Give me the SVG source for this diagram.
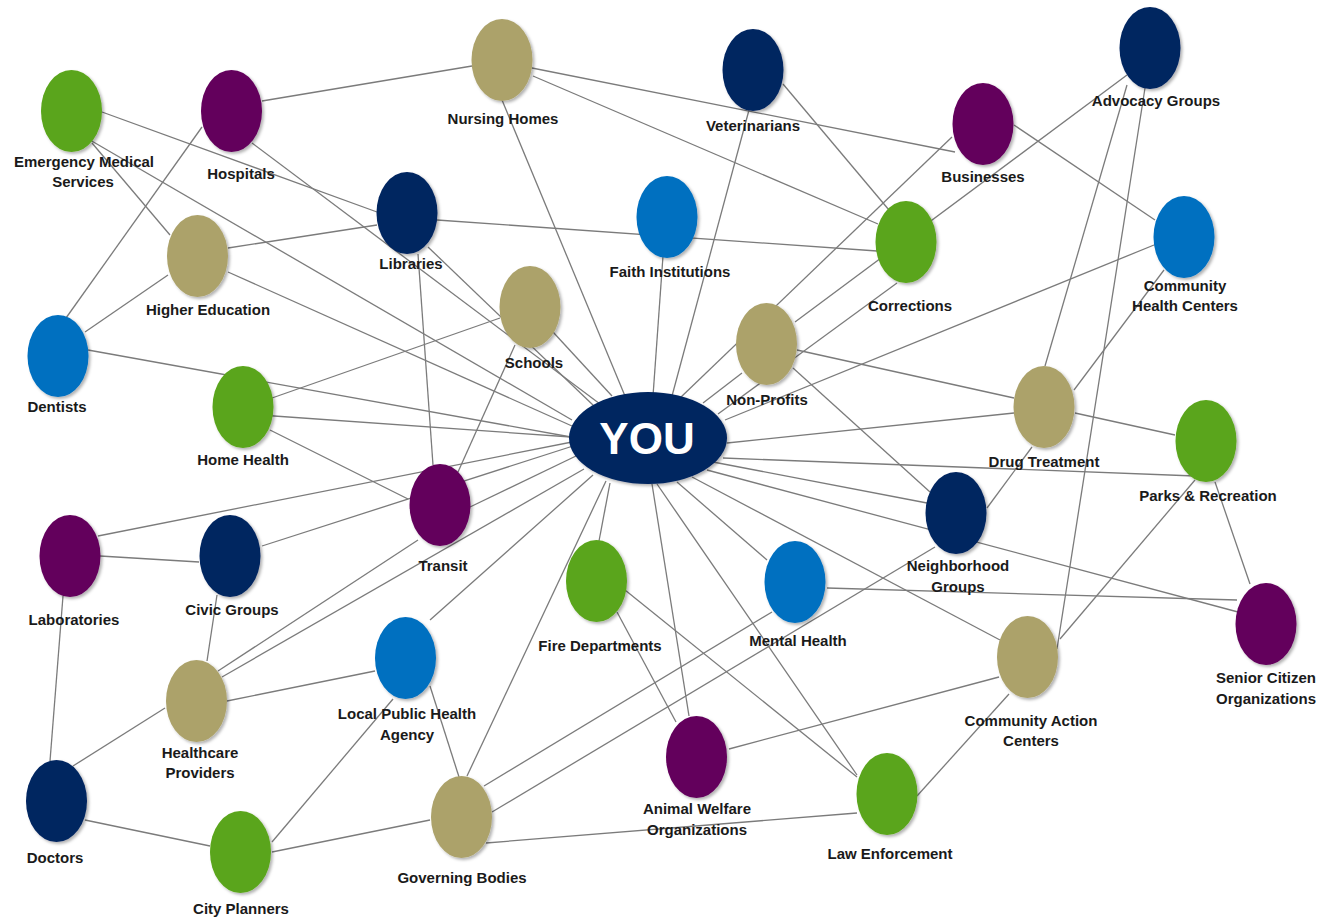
<svg xmlns="http://www.w3.org/2000/svg" width="1331" height="922" viewBox="0 0 1331 922">
<style>
.c line{stroke:#7b7b7b;stroke-width:1.3;fill:none}
.g{fill:#5aa51a}.p{fill:#63005c}.t{fill:#aca26b}.n{fill:#012560}.b{fill:#0070c0}
ellipse{filter:url(#sh)}
text{font-family:"Liberation Sans",Arial,sans-serif;font-weight:bold;font-size:15px;fill:#1a1a1a;text-anchor:middle}
.you{font-size:44px;fill:#ffffff}
</style>
<defs>
<filter id="sh" x="-30%" y="-30%" width="160%" height="160%">
<feDropShadow dx="2" dy="2" stdDeviation="1.5" flood-color="#000" flood-opacity="0.3"/>
</filter>
</defs>
<rect width="1331" height="922" fill="#ffffff"/>
<g id="connectors" class="c">
<line x1="262" y1="101" x2="472" y2="66"/>
<line x1="532" y1="68" x2="955" y2="152"/>
<line x1="533" y1="76" x2="878" y2="224"/>
<line x1="502" y1="100" x2="625" y2="396"/>
<line x1="749" y1="110" x2="672" y2="396"/>
<line x1="783" y1="84" x2="889" y2="210"/>
<line x1="663" y1="256" x2="653" y2="396"/>
<line x1="437" y1="220" x2="877" y2="251"/>
<line x1="102" y1="112" x2="377" y2="212"/>
<line x1="90" y1="140" x2="572" y2="420"/>
<line x1="92" y1="143" x2="170" y2="235"/>
<line x1="202" y1="127" x2="66" y2="318"/>
<line x1="252" y1="143" x2="600" y2="404"/>
<line x1="228" y1="248" x2="377" y2="225"/>
<line x1="168" y1="275" x2="85" y2="332"/>
<line x1="228" y1="272" x2="572" y2="426"/>
<line x1="418" y1="254" x2="433" y2="465"/>
<line x1="428" y1="247" x2="594" y2="406"/>
<line x1="553" y1="332" x2="612" y2="396"/>
<line x1="500" y1="318" x2="272" y2="398"/>
<line x1="515" y1="345" x2="458" y2="472"/>
<line x1="260" y1="415" x2="571" y2="437"/>
<line x1="88" y1="350" x2="571" y2="437"/>
<line x1="98" y1="536" x2="572" y2="442"/>
<line x1="262" y1="546" x2="573" y2="446"/>
<line x1="470" y1="507" x2="576" y2="456"/>
<line x1="218" y1="671" x2="418" y2="540"/>
<line x1="222" y1="677" x2="584" y2="469"/>
<line x1="430" y1="620" x2="593" y2="475"/>
<line x1="467" y1="776" x2="606" y2="481"/>
<line x1="599" y1="541" x2="610" y2="483"/>
<line x1="689" y1="716" x2="652" y2="484"/>
<line x1="657" y1="484" x2="857" y2="775"/>
<line x1="677" y1="482" x2="767" y2="560"/>
<line x1="692" y1="477" x2="1000" y2="640"/>
<line x1="707" y1="470" x2="1238" y2="612"/>
<line x1="713" y1="462" x2="927" y2="503"/>
<line x1="723" y1="458" x2="1195" y2="476"/>
<line x1="727" y1="443" x2="1014" y2="413"/>
<line x1="725" y1="420" x2="1154" y2="245"/>
<line x1="897" y1="283" x2="718" y2="414"/>
<line x1="952" y1="137" x2="680" y2="398"/>
<line x1="742" y1="373" x2="703" y2="403"/>
<line x1="1127" y1="75" x2="795" y2="322"/>
<line x1="797" y1="350" x2="1014" y2="398"/>
<line x1="793" y1="368" x2="930" y2="492"/>
<line x1="1014" y1="125" x2="1155" y2="220"/>
<line x1="1127" y1="85" x2="1045" y2="366"/>
<line x1="1145" y1="88" x2="1057" y2="649"/>
<line x1="1074" y1="390" x2="1164" y2="270"/>
<line x1="1075" y1="413" x2="1175" y2="435"/>
<line x1="987" y1="508" x2="1032" y2="447"/>
<line x1="1215" y1="482" x2="1250" y2="584"/>
<line x1="1195" y1="480" x2="1060" y2="639"/>
<line x1="827" y1="588" x2="1237" y2="600"/>
<line x1="772" y1="612" x2="484" y2="786"/>
<line x1="935" y1="547" x2="492" y2="812"/>
<line x1="999" y1="677" x2="729" y2="749"/>
<line x1="1009" y1="694" x2="917" y2="796"/>
<line x1="617" y1="612" x2="676" y2="722"/>
<line x1="625" y1="590" x2="857" y2="777"/>
<line x1="486" y1="843" x2="857" y2="813"/>
<line x1="430" y1="686" x2="459" y2="777"/>
<line x1="272" y1="852" x2="430" y2="820"/>
<line x1="272" y1="842" x2="393" y2="699"/>
<line x1="85" y1="820" x2="210" y2="846"/>
<line x1="73" y1="766" x2="165" y2="708"/>
<line x1="63" y1="596" x2="50" y2="761"/>
<line x1="100" y1="556" x2="199" y2="562"/>
<line x1="217" y1="595" x2="207" y2="661"/>
<line x1="227" y1="701" x2="375" y2="671"/>
<line x1="270" y1="430" x2="408" y2="499"/>
</g>
<g id="node-ems"><ellipse class="g" cx="71.5" cy="111" rx="30.5" ry="41"/><text x="84" y="167">Emergency Medical</text><text x="83" y="187">Services</text></g>
<g id="node-hospitals"><ellipse class="p" cx="231.5" cy="111" rx="30.5" ry="41"/><text x="241" y="179">Hospitals</text></g>
<g id="node-higher-education"><ellipse class="t" cx="197.5" cy="256" rx="30.5" ry="41"/><text x="208" y="315">Higher Education</text></g>
<g id="node-libraries"><ellipse class="n" cx="407" cy="213" rx="30.5" ry="41"/><text x="411" y="269">Libraries</text></g>
<g id="node-nursing-homes"><ellipse class="t" cx="502" cy="60" rx="30.5" ry="41"/><text x="503" y="124">Nursing Homes</text></g>
<g id="node-veterinarians"><ellipse class="n" cx="753" cy="70" rx="30.5" ry="41"/><text x="753" y="131">Veterinarians</text></g>
<g id="node-faith"><ellipse class="b" cx="667" cy="217" rx="30.5" ry="41"/><text x="670" y="277">Faith Institutions</text></g>
<g id="node-advocacy"><ellipse class="n" cx="1150" cy="48" rx="30.5" ry="41"/><text x="1156" y="106">Advocacy Groups</text></g>
<g id="node-businesses"><ellipse class="p" cx="983" cy="124" rx="30.5" ry="41"/><text x="983" y="182">Businesses</text></g>
<g id="node-chc"><ellipse class="b" cx="1184" cy="237" rx="30.5" ry="41"/><text x="1185" y="291">Community</text><text x="1185" y="311">Health Centers</text></g>
<g id="node-corrections"><ellipse class="g" cx="906" cy="242" rx="30.5" ry="41"/><text x="910" y="311">Corrections</text></g>
<g id="node-dentists"><ellipse class="b" cx="58" cy="356" rx="30.5" ry="41"/><text x="57" y="412">Dentists</text></g>
<g id="node-home-health"><ellipse class="g" cx="243" cy="407" rx="30.5" ry="41"/><text x="243" y="465">Home Health</text></g>
<g id="node-schools"><ellipse class="t" cx="530" cy="307" rx="30.5" ry="41"/><text x="534" y="368">Schools</text></g>
<g id="node-non-profits"><ellipse class="t" cx="766.5" cy="344" rx="30.5" ry="41"/><text x="767" y="405">Non-Profits</text></g>
<g id="node-drug-treatment"><ellipse class="t" cx="1044" cy="407" rx="30.5" ry="41"/><text x="1044" y="467">Drug Treatment</text></g>
<g id="node-parks"><ellipse class="g" cx="1206" cy="441" rx="30.5" ry="41"/><text x="1208" y="501">Parks &amp; Recreation</text></g>
<g id="node-neighborhood"><ellipse class="n" cx="956" cy="513" rx="30.5" ry="41"/><text x="958" y="571">Neighborhood</text><text x="958" y="592">Groups</text></g>
<g id="node-transit"><ellipse class="p" cx="440" cy="505" rx="30.5" ry="41"/><text x="443" y="571">Transit</text></g>
<g id="node-laboratories"><ellipse class="p" cx="70" cy="556" rx="30.5" ry="41"/><text x="74" y="625">Laboratories</text></g>
<g id="node-civic"><ellipse class="n" cx="230" cy="556" rx="30.5" ry="41"/><text x="232" y="615">Civic Groups</text></g>
<g id="node-fire"><ellipse class="g" cx="596.5" cy="581" rx="30.5" ry="41"/><text x="600" y="651">Fire Departments</text></g>
<g id="node-mental-health"><ellipse class="b" cx="795" cy="582" rx="30.5" ry="41"/><text x="798" y="646">Mental Health</text></g>
<g id="node-senior"><ellipse class="p" cx="1266" cy="624" rx="30.5" ry="41"/><text x="1266" y="683">Senior Citizen</text><text x="1266" y="704">Organizations</text></g>
<g id="node-lpha"><ellipse class="b" cx="405.5" cy="658" rx="30.5" ry="41"/><text x="407" y="719">Local Public Health</text><text x="407" y="740">Agency</text></g>
<g id="node-healthcare"><ellipse class="t" cx="196.5" cy="701" rx="30.5" ry="41"/><text x="200" y="758">Healthcare</text><text x="200" y="778">Providers</text></g>
<g id="node-doctors"><ellipse class="n" cx="56.5" cy="801" rx="30.5" ry="41"/><text x="55" y="863">Doctors</text></g>
<g id="node-city-planners"><ellipse class="g" cx="240.5" cy="852" rx="30.5" ry="41"/><text x="241" y="914">City Planners</text></g>
<g id="node-governing"><ellipse class="t" cx="461.5" cy="817" rx="30.5" ry="41"/><text x="462" y="883">Governing Bodies</text></g>
<g id="node-animal-welfare"><ellipse class="p" cx="696.5" cy="757" rx="30.5" ry="41"/><text x="697" y="814">Animal Welfare</text><text x="697" y="835">Organizations</text></g>
<g id="node-law"><ellipse class="g" cx="887" cy="794" rx="30.5" ry="41"/><text x="890" y="859">Law Enforcement</text></g>
<g id="node-cac"><ellipse class="t" cx="1027.5" cy="657" rx="30.5" ry="41"/><text x="1031" y="726">Community Action</text><text x="1031" y="746">Centers</text></g>
<g id="node-you"><ellipse class="n" cx="648" cy="438" rx="79" ry="46"/><text class="you" x="647" y="454">YOU</text></g>
</svg>
